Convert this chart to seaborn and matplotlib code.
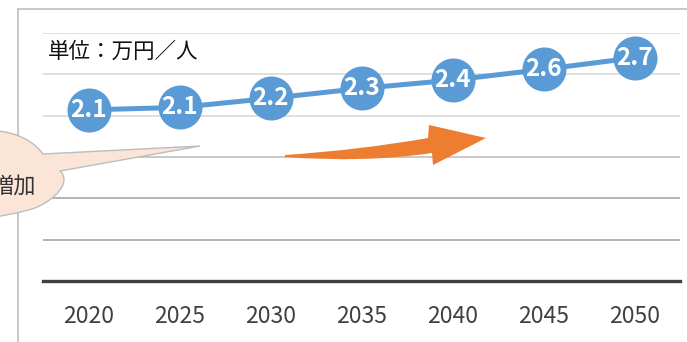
import matplotlib
matplotlib.use("Agg")
import matplotlib.pyplot as plt
import pandas as pd
import seaborn as sns
from matplotlib.path import Path as MPath
from matplotlib.patches import PathPatch

YEARS = ["2020", "2025", "2030", "2035", "2040", "2045", "2050"]
VALUES = [2.07, 2.10, 2.21, 2.33, 2.43, 2.56, 2.70]
LABELS = ["2.1", "2.1", "2.2", "2.3", "2.4", "2.6", "2.7"]
UNIT_TEXT = "単位：万円／人"
BUBBLE_TEXT = "増加"

W, H = 687, 342
BLUE = "#5B9BD5"
ORANGE = "#ED7D31"


def px(x, y):
    # pixel position measured from the top-left -> figure fraction
    return x / W, 1 - y / H


def shape(points, codes, **kw):
    verts = [px(x, y) for x, y in points]
    return PathPatch(MPath(verts, codes), transform=fig.transFigure, **kw)


sns.set_theme(style="white")
plt.rcParams["font.family"] = ["Noto Sans CJK JP", "DejaVu Sans"]

df = pd.DataFrame({"year": YEARS, "value": VALUES, "label": LABELS})

fig = plt.figure(figsize=(W / 100, H / 100), dpi=100)
fig.patch.set_facecolor("white")
ax = fig.add_axes([43 / W, 1 - 281 / H, (680 - 43) / W, (281 - 33) / H])

sns.pointplot(data=df, x="year", y="value", color=BLUE, markers="o",
              markersize=29, linewidth=3.6, ax=ax, zorder=5)

for i, row in df.iterrows():
    ax.text(i, row["value"], row["label"], ha="center", va="center",
            color="white", fontsize=17.5, fontweight="bold", zorder=6)

ax.set_xlim(-0.5, len(YEARS) - 0.5)
ax.set_ylim(0, 3.0)
ax.set_yticks([0, 0.5, 1.0, 1.5, 2.0, 2.5, 3.0])
ax.set_yticklabels([])
ax.tick_params(axis="y", length=0)
ax.tick_params(axis="x", length=0, pad=17, labelsize=16.5, labelcolor="#404040")
ax.set_xlabel("")
ax.set_ylabel("")
ax.yaxis.grid(True, linewidth=1.2)
grid_colors = ["#404040", "#A6A6A6", "#A6A6A6", "#C0C0C0", "#D9D9D9", "#D9D9D9", "#D9D9D9"]
for line, c in zip(ax.get_ygridlines(), grid_colors):
    line.set_color(c)
ax.xaxis.grid(False)
for side in ["top", "right", "left"]:
    ax.spines[side].set_visible(False)
ax.spines["bottom"].set_color("#404040")
ax.spines["bottom"].set_linewidth(2.4)
ax.set_facecolor("none")

# chart frame
fig.add_artist(plt.Line2D([18 / W, 18 / W], [0, 1 - 9 / H], transform=fig.transFigure,
                          color="#BFBFBF", linewidth=1.2))
fig.add_artist(plt.Line2D([18 / W, 1], [1 - 9 / H, 1 - 9 / H], transform=fig.transFigure,
                          color="#BFBFBF", linewidth=1.2))

fig.text(48 / W, 1 - 52 / H, UNIT_TEXT, fontsize=15.5, color="#111111", va="center", ha="left")

# orange curved arrow
C3, C4, L, M = MPath.CURVE3, MPath.CURVE4, MPath.LINETO, MPath.MOVETO
arrow_pts = [(285, 155), (360, 150), (428, 138), (429, 125), (486, 138),
             (433, 165), (432, 153), (365, 163), (285, 157), (285, 155)]
arrow_codes = [M, C3, C3, L, L, L, L, C3, C3, MPath.CLOSEPOLY]
fig.add_artist(shape(arrow_pts, arrow_codes, facecolor=ORANGE, edgecolor="none", zorder=8))

# speech bubble (cut by the left edge, as in the source)
bubble_pts = [(-10, 130), (20, 132), (35, 143), (43, 154), (200, 146), (60, 171),
              (72, 182), (55, 200), (35, 208), (20, 213), (0, 216), (-10, 218),
              (-10, 130)]
bubble_codes = [M, C4, C4, C4, L, L, C4, C4, C4, C4, C4, C4, MPath.CLOSEPOLY]
fig.add_artist(shape(bubble_pts, bubble_codes, facecolor="#FBE5D6", edgecolor="#BDBDBD",
                     linewidth=1.0, zorder=9))
fig.text(36 / W, 1 - 186 / H, BUBBLE_TEXT, fontsize=16, color="#333333",
         ha="right", va="center", zorder=10)

fig.savefig("out.png", dpi=100)
